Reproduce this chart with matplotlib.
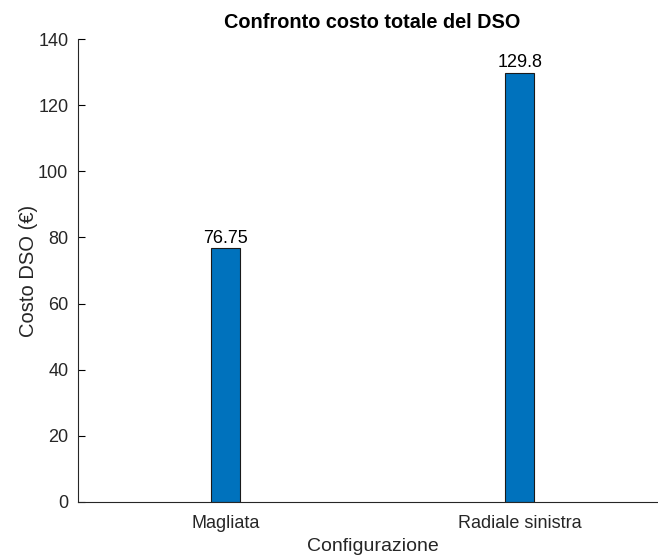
import matplotlib
matplotlib.use("Agg")
import matplotlib.pyplot as plt

plt.rcParams['font.family'] = ['Liberation Sans', 'DejaVu Sans']

categories = ["Magliata", "Radiale sinistra"]
costs = [76.75, 129.8]
value_labels = ["76.75", "129.8"]
yticks = [0, 20, 40, 60, 80, 100, 120, 140]

fig = plt.figure(figsize=(6.58, 5.57), dpi=100)
W, H = 658, 557
left, right, top, bottom = 78, 667, 39, 502
ax = fig.add_axes([left / W, 1 - bottom / H, (right - left) / W, (bottom - top) / H])

x = [1, 2]
ax.bar(x, costs, width=0.1, color="#0072BD", edgecolor="#1a1a1a", linewidth=0.8, zorder=2)
for xi, v, lab in zip(x, costs, value_labels):
    ax.text(xi, v + 0.4, lab, ha="center", va="bottom", fontsize=13, color="black")

ax.set_xlim(0.5, 2.5)
ax.set_ylim(0, 140)
ax.set_xticks(x)
ax.set_xticklabels(categories, fontsize=13, color="#262626")
ax.set_yticks(yticks)
ax.set_yticklabels([str(t) for t in yticks], fontsize=13, color="#262626")
ax.tick_params(axis="y", direction="in", length=5, width=0.8, pad=7)
ax.tick_params(axis="x", length=0, pad=9)
for s in ["top", "right"]:
    ax.spines[s].set_visible(False)
for s in ["left", "bottom"]:
    ax.spines[s].set_linewidth(0.8)
    ax.spines[s].set_color("#262626")

ax.set_xlabel("Configurazione", fontsize=14, color="#262626", labelpad=5)
ax.set_ylabel("Costo DSO (€)", fontsize=14.5, color="#262626", labelpad=0)
fig.text(372 / W, 1 - 22 / H, "Confronto costo totale del DSO", ha="center", va="center",
         fontsize=14.3, fontweight="bold", color="black")

fig.savefig("out.png", dpi=100)
